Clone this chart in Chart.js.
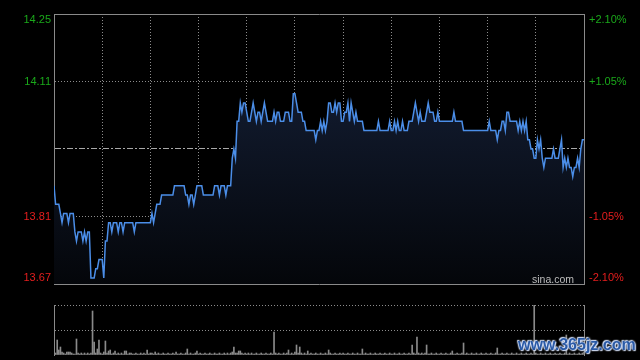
<!DOCTYPE html>
<html><head><meta charset="utf-8">
<script src="https://cdn.jsdelivr.net/npm/chart.js@4"></script>
<style>
html,body{margin:0;padding:0;background:#000;width:640px;height:360px;overflow:hidden;}
#wrap{position:relative;width:640px;height:360px;background:#000;}
#main{position:absolute;left:0;top:0;width:640px;height:290px;}
#vol{position:absolute;left:0;top:290px;width:640px;height:70px;}
.sina{position:absolute;left:532px;top:273px;font:10.5px "Liberation Sans",Arial,sans-serif;line-height:12px;color:#bdbdbd;}
.wm{position:absolute;left:518px;top:336px;font:bold 16px "Liberation Sans",Arial,sans-serif;line-height:18px;color:#2a5aa6;
text-shadow:0 0 2px #dfe8ff,0 0 2px #dfe8ff,1px 1px 1px #c8d6f0,-1px -1px 1px #c8d6f0;}
</style></head>
<body><div id="wrap">
<canvas id="main" width="640" height="290"></canvas>
<canvas id="vol" width="640" height="70"></canvas>
<div class="sina">sina.com</div>
<div class="wm">www.365jz.com</div>
</div>
<script>
const prevClose = 13.96;
const pctLevels = [-2.10, -1.05, 0, 1.05, 2.10];
const priceTickLabels = ['13.67', '13.81', '', '14.11', '14.25'];
const pctTickLabels = ['-2.10%', '-1.05%', '', '+1.05%', '+2.10%'];
const timeGrid = ['09:30','10:00','10:30','11:00','11:30','12:00','13:30','14:00','14:30','15:00','15:30','16:00'];
const prices = [
13.88,13.84,13.84,13.84,13.82,13.80,13.82,13.82,13.82,13.80,
13.82,13.82,13.82,13.78,13.76,13.78,13.78,13.78,13.76,13.78,
13.76,13.78,13.78,13.68,13.68,13.68,13.70,13.70,13.72,13.72,
13.72,13.68,13.76,13.76,13.80,13.80,13.78,13.80,13.80,13.80,
13.78,13.80,13.80,13.78,13.80,13.80,13.80,13.80,13.80,13.80,
13.78,13.80,13.80,13.80,13.80,13.80,13.80,13.80,13.80,13.80,
13.80,13.82,13.80,13.82,13.84,13.84,13.84,13.86,13.86,13.86,
13.86,13.86,13.86,13.86,13.86,13.88,13.88,13.88,13.88,13.88,
13.88,13.88,13.86,13.86,13.84,13.86,13.86,13.84,13.86,13.88,
13.88,13.88,13.88,13.86,13.86,13.86,13.86,13.86,13.86,13.86,
13.88,13.88,13.88,13.86,13.88,13.88,13.88,13.86,13.88,13.88,
13.88,13.94,13.96,13.94,14.02,14.02,14.06,14.04,14.06,14.06,
14.04,14.02,14.02,14.04,14.06,14.04,14.02,14.04,14.04,14.02,
14.04,14.06,14.04,14.02,14.02,14.02,14.02,14.04,14.02,14.04,
14.04,14.02,14.02,14.02,14.04,14.04,14.04,14.02,14.02,14.08,
14.08,14.06,14.04,14.04,14.04,14.02,14.02,14.00,14.00,14.00,
14.00,14.00,14.00,13.98,14.00,14.00,14.02,14.00,14.02,14.00,
14.02,14.06,14.06,14.04,14.04,14.06,14.04,14.06,14.06,14.02,
14.02,14.04,14.04,14.06,14.02,14.06,14.04,14.02,14.04,14.02,
14.02,14.02,14.02,14.00,14.00,14.00,14.00,14.00,14.00,14.00,
14.00,14.00,14.02,14.00,14.00,14.00,14.00,14.00,14.00,14.02,
14.00,14.00,14.02,14.00,14.02,14.00,14.00,14.02,14.00,14.00,
14.00,14.02,14.02,14.02,14.04,14.06,14.04,14.02,14.04,14.02,
14.02,14.02,14.04,14.06,14.04,14.04,14.04,14.02,14.02,14.04,
14.02,14.02,14.02,14.02,14.02,14.02,14.02,14.02,14.02,14.04,
14.02,14.02,14.02,14.02,14.02,14.00,14.00,14.00,14.00,14.00,
14.00,14.00,14.00,14.00,14.00,14.00,14.00,14.00,14.00,14.00,
14.00,14.02,14.00,14.00,14.00,14.00,13.98,14.00,14.00,14.02,
14.02,14.00,14.04,14.04,14.02,14.02,14.02,14.02,14.02,14.00,
14.02,14.00,14.02,14.00,14.02,13.98,13.98,13.96,13.96,13.94,
13.94,13.98,13.96,13.98,13.94,13.92,13.94,13.94,13.94,13.94,
13.94,13.96,13.94,13.94,13.94,13.96,13.98,13.92,13.94,13.92,
13.94,13.92,13.92,13.90,13.92,13.92,13.94,13.92,13.96,13.98,
13.98
];
const volumes = [
3,2,15,5,8,3,2,1,3,3,
3,2,1,1,16,2,1,2,1,2,
1,2,1,2,44,13,2,6,15,2,
1,3,14,2,4,5,1,2,4,1,
2,1,2,1,4,4,1,2,2,1,
1,2,1,1,2,1,2,1,5,1,
2,2,1,3,1,2,1,1,2,1,
1,2,1,1,2,1,3,1,1,2,
1,1,2,6,1,2,1,1,2,4,
1,2,1,1,2,1,1,2,1,1,
2,1,1,2,1,1,2,1,2,1,
2,3,8,2,2,4,4,2,1,2,
1,2,1,2,1,1,2,1,1,2,
1,1,2,1,1,2,1,23,2,1,
2,1,1,2,1,2,5,1,2,1,
3,10,2,8,2,1,2,1,4,1,
2,1,1,2,1,1,2,1,1,2,
1,5,2,1,1,2,1,1,2,1,
2,1,1,2,1,1,2,1,1,2,
1,1,6,1,2,1,1,2,1,1,
2,1,1,2,1,1,2,1,1,2,
1,1,2,1,1,2,1,1,2,1,
1,2,1,10,2,1,18,2,1,2,
1,2,10,1,1,2,1,1,2,1,
1,2,1,1,2,1,1,2,4,1,
1,2,1,1,2,12,1,2,1,1,
2,1,1,2,1,1,2,1,1,2,
1,1,2,1,1,2,7,1,1,2,
1,1,2,1,1,2,1,1,2,1,
1,2,1,1,2,1,1,2,1,50,
2,1,1,2,1,1,2,1,1,2,
1,1,2,1,1,2,1,1,2,20,
1,2,1,1,2,1,1,2,1,2,
3
];
const minutes = prices.map((_, i) => i);

const UP = '#1aa81a', DOWN = '#e61e1e';
const BORDER = '#8a8a8a', DOT = '#8c8c8c', MID = '#a8a8a8';
const FONT = {family: '"Liberation Sans", Arial, sans-serif', size: 11, lineHeight: 1.1};
const yMin = prevClose * (1 + pctLevels[0] / 100);
const yMax = prevClose * (1 + pctLevels[pctLevels.length - 1] / 100);
const levelTicks = () => pctLevels.map(p => ({value: prevClose * (1 + p / 100)}));
const lastIdx = pctLevels.length - 1;
const edgeLabel = (txt, i) => i === 0 ? [txt, ''] : (i === lastIdx ? ['', txt] : txt);
const labelColor = c => (c.index < 2 ? DOWN : UP);
const noPad = (s, w) => { s.width = w; s.paddingTop = 0; s.paddingBottom = 0; };

new Chart(document.getElementById('main'), {
  type: 'line',
  data: {
    labels: minutes,
    datasets: [{
      data: prices,
      borderColor: '#4b8ee8',
      borderWidth: 1.5,
      pointRadius: 0,
      tension: 0,
      fill: 'start',
      backgroundColor: (ctx) => {
        const a = ctx.chart.chartArea;
        if (!a) return 'rgba(20,30,55,0.6)';
        const g = ctx.chart.ctx.createLinearGradient(0, a.top, 0, a.bottom);
        g.addColorStop(0, '#17233d');
        g.addColorStop(1, '#04060a');
        return g;
      }
    }]
  },
  options: {
    responsive: false, animation: false, events: [],
    layout: {padding: {top: 14, bottom: 6, left: 0, right: 0}},
    plugins: {legend: {display: false}, tooltip: {enabled: false}},
    scales: {
      x: {
        type: 'linear', min: 0, max: 330,
        afterBuildTicks: s => { s.ticks = timeGrid.map((t, i) => ({value: i * 30})); },
        ticks: {display: false},
        grid: {color: c => (c.index === 0 || c.index === timeGrid.length - 1) ? 'rgba(0,0,0,0)' : DOT, drawTicks: false, lineWidth: 1},
        border: {display: false, dash: [1, 2]},
        afterFit: s => { s.height = 0; s.paddingLeft = 0; s.paddingRight = 0; }
      },
      y: {
        position: 'left', min: yMin, max: yMax,
        afterBuildTicks: s => { s.ticks = levelTicks(); },
        ticks: {callback: (v, i) => edgeLabel(priceTickLabels[i], i), color: labelColor, font: FONT, padding: 3},
        grid: {
          color: c => (c.index === 0 || c.index === lastIdx) ? BORDER : (c.index === 2 ? MID : DOT),
          drawTicks: false, lineWidth: 1
        },
        border: {color: BORDER, width: 1, dash: c => (c.index === 0 || c.index === lastIdx) ? [] : (c.index === 2 ? [6, 2, 2, 2] : [1, 2])},
        afterFit: s => noPad(s, 54)
      },
      y2: {
        position: 'right', min: yMin, max: yMax,
        afterBuildTicks: s => { s.ticks = levelTicks(); },
        ticks: {callback: (v, i) => edgeLabel(pctTickLabels[i], i), color: labelColor, font: FONT, padding: 5},
        grid: {display: false, drawTicks: false},
        border: {color: BORDER, width: 1},
        afterFit: s => noPad(s, 56)
      }
    }
  }
});

new Chart(document.getElementById('vol'), {
  type: 'bar',
  data: {
    labels: minutes,
    datasets: [{data: volumes, backgroundColor: '#8a8a8a', barThickness: 1, borderWidth: 0}]
  },
  options: {
    responsive: false, animation: false, events: [],
    layout: {padding: {top: 15, bottom: 5, left: 0, right: 0}},
    plugins: {legend: {display: false}, tooltip: {enabled: false}},
    scales: {
      x: {
        type: 'linear', min: 0, max: 330, offset: false,
        ticks: {display: false}, grid: {display: false}, border: {display: false},
        afterFit: s => { s.height = 0; s.paddingLeft = 0; s.paddingRight = 0; }
      },
      y: {
        min: 0, max: 50,
        afterBuildTicks: s => { s.ticks = [{value: 0}, {value: 25}, {value: 50}]; },
        ticks: {display: false},
        grid: {color: c => c.index === 0 ? 'rgba(0,0,0,0)' : DOT, drawTicks: false},
        border: {color: BORDER, width: 1, dash: [1, 2]},
        afterFit: s => noPad(s, 54)
      },
      y2: {
        position: 'right', min: 0, max: 50,
        ticks: {display: false}, grid: {display: false},
        border: {color: BORDER, width: 1},
        afterFit: s => noPad(s, 56)
      }
    }
  }
});
</script>
</body></html>
